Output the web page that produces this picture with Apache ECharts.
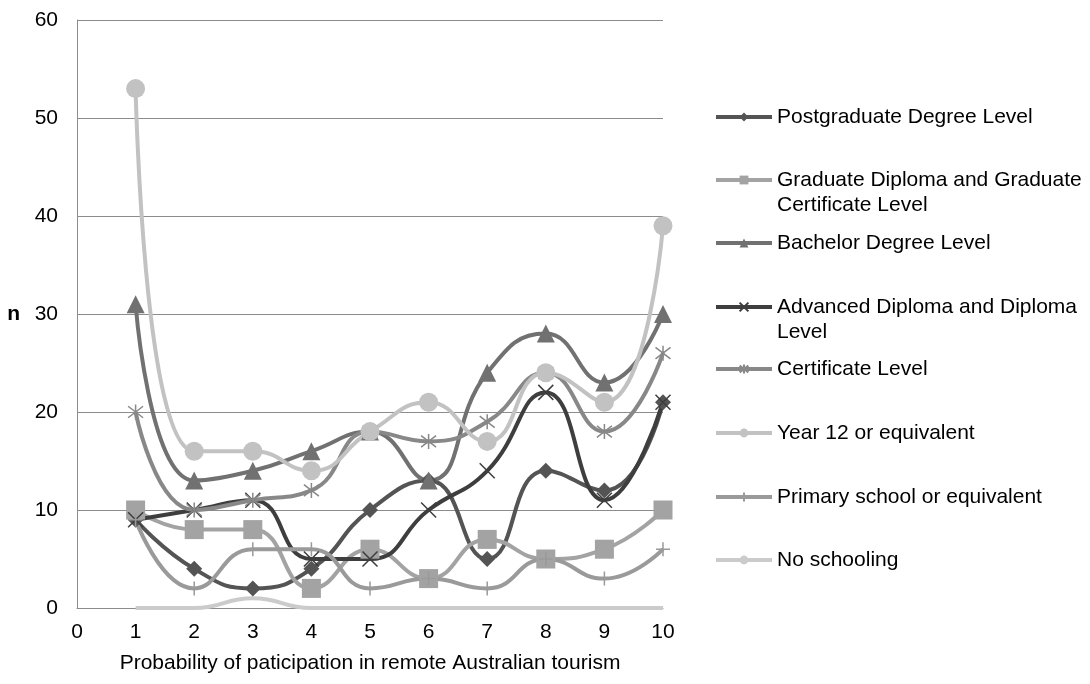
<!DOCTYPE html>
<html>
<head>
<meta charset="utf-8">
<title>Probability of participation by education level</title>
<script src="https://cdn.jsdelivr.net/npm/echarts@6/dist/echarts.min.js"></script>
<style>
  html, body { margin: 0; padding: 0; background: #fff; }
  #chart { width: 1090px; height: 684px; }
</style>
</head>
<body>
<div id="chart"></div>
<script>
// Probability scores (x) and respondent counts (n) per education level
const probabilityScores = [1, 2, 3, 4, 5, 6, 7, 8, 9, 10];
const postgraduate   = [9, 4, 2, 4, 10, 13, 5, 14, 12, 21];
const gradDiploma    = [10, 8, 8, 2, 6, 3, 7, 5, 6, 10];
const bachelor       = [31, 13, 14, 16, 18, 13, 24, 28, 23, 30];
const advDiploma     = [9, 10, 11, 5, 5, 10, 14, 22, 11, 21];
const certificate    = [20, 10, 11, 12, 18, 17, 19, 24, 18, 26];
const year12         = [53, 16, 16, 14, 18, 21, 17, 24, 21, 39];
const primarySchool  = [9, 2, 6, 6, 2, 3, 2, 5, 3, 6];
const noSchooling    = [0, 0, 1, 0, 0, 0, 0, 0, 0, 0];

const seriesNames = [
  'Postgraduate Degree Level',
  'Graduate Diploma and Graduate Certificate Level',
  'Bachelor Degree Level',
  'Advanced Diploma and Diploma Level',
  'Certificate Level',
  'Year 12 or equivalent',
  'Primary school or equivalent',
  'No schooling'
];
// legend text, wrapped where the label runs onto two lines
const legendLabels = [
  ['Postgraduate Degree Level'],
  ['Graduate Diploma and Graduate', 'Certificate Level'],
  ['Bachelor Degree Level'],
  ['Advanced Diploma and Diploma', 'Level'],
  ['Certificate Level'],
  ['Year 12 or equivalent'],
  ['Primary school or equivalent'],
  ['No schooling']
];
const seriesValues = [postgraduate, gradDiploma, bachelor, advDiploma,
                      certificate, year12, primarySchool, noSchooling];

const FONT = '"Liberation Sans", Arial, sans-serif';
const FS = 21;
const colors = ['#545454', '#a3a3a3', '#717171', '#3e3e3e',
                '#888888', '#c2c2c2', '#9a9a9a', '#cbcbcb'];

const crossPath = 'path://M0,0L10,10M10,0L0,10';
const starPath = 'path://M0,0L10,10M10,0L0,10M5,-1.5L5,11.5';
const plusPath = 'path://M5,0L5,10M0,5L10,5';

const symbols = [
  { symbol: 'diamond', size: 16, stroke: 0 },
  { symbol: 'rect', size: 19, stroke: 0 },
  { symbol: 'triangle', size: 18, stroke: 0 },
  { symbol: crossPath, size: 15, stroke: 1.5 },
  { symbol: starPath, size: 15, stroke: 1.5 },
  { symbol: 'circle', size: 19, stroke: 0 },
  { symbol: plusPath, size: 14, stroke: 1.5 },
  { symbol: 'none', size: 0, stroke: 0 }
];

const series = seriesValues.map((vals, i) => ({
  name: seriesNames[i],
  type: 'line',
  smooth: 0.5,
  data: vals.map((v, k) => [probabilityScores[k], v]),
  symbol: symbols[i].symbol,
  symbolSize: symbols[i].size,
  showSymbol: symbols[i].symbol !== 'none',
  lineStyle: { color: colors[i], width: 4 },
  itemStyle: {
    color: colors[i],
    borderColor: colors[i],
    borderWidth: symbols[i].stroke
  },
  emphasis: { disabled: true },
  animation: false
}));

// one legend block per entry, evenly spaced down the right side;
// two-line entries get a blank first line so the key sits beside line one
const legendCenters = [117, 180, 243, 307, 369, 433, 497, 560];
const LINE_H = 25;
const legends = seriesNames.map((name, i) => {
  const twoLines = legendLabels[i].length > 1;
  return {
    data: [name],
    orient: 'vertical',
    left: 714,
    top: twoLines ? legendCenters[i] - LINE_H * 1.5 : legendCenters[i] - LINE_H / 2,
    padding: 0,
    itemWidth: 56,
    itemHeight: 11,
    itemGap: 0,
    selectedMode: false,
    lineStyle: { width: 4 },
    formatter: () => (twoLines ? ' \n' : '') + legendLabels[i].join('\n'),
    textStyle: {
      fontFamily: FONT,
      fontSize: FS,
      color: '#000',
      lineHeight: LINE_H
    }
  };
});

const chart = echarts.init(document.getElementById('chart'), null, { renderer: 'canvas' });
chart.setOption({
  backgroundColor: '#ffffff',
  animation: false,
  textStyle: { fontFamily: FONT },
  grid: { left: 77, right: 427, top: 20, bottom: 76, containLabel: false },
  legend: legends,
  xAxis: {
    type: 'value',
    min: 0,
    max: 10,
    interval: 1,
    name: 'Probability of paticipation in remote Australian tourism',
    nameLocation: 'middle',
    nameGap: 45,
    nameTextStyle: { fontFamily: FONT, fontSize: FS, color: '#000' },
    axisLine: { show: true, lineStyle: { color: '#8c8c8c', width: 1 } },
    axisTick: { show: false },
    splitLine: { show: false },
    axisLabel: { fontFamily: FONT, fontSize: FS, color: '#000', margin: 14 }
  },
  yAxis: {
    type: 'value',
    min: 0,
    max: 60,
    interval: 10,
    name: 'n',
    nameLocation: 'middle',
    nameRotate: 0,
    nameGap: 57,
    nameTextStyle: { fontFamily: FONT, fontSize: FS, fontWeight: 'bold', color: '#000' },
    axisLine: { show: true, lineStyle: { color: '#8c8c8c', width: 1 } },
    axisTick: { show: false },
    splitLine: { show: true, lineStyle: { color: '#8c8c8c', width: 1 } },
    axisLabel: { fontFamily: FONT, fontSize: FS, color: '#000', margin: 19 }
  },
  series: series
});
</script>
</body>
</html>
